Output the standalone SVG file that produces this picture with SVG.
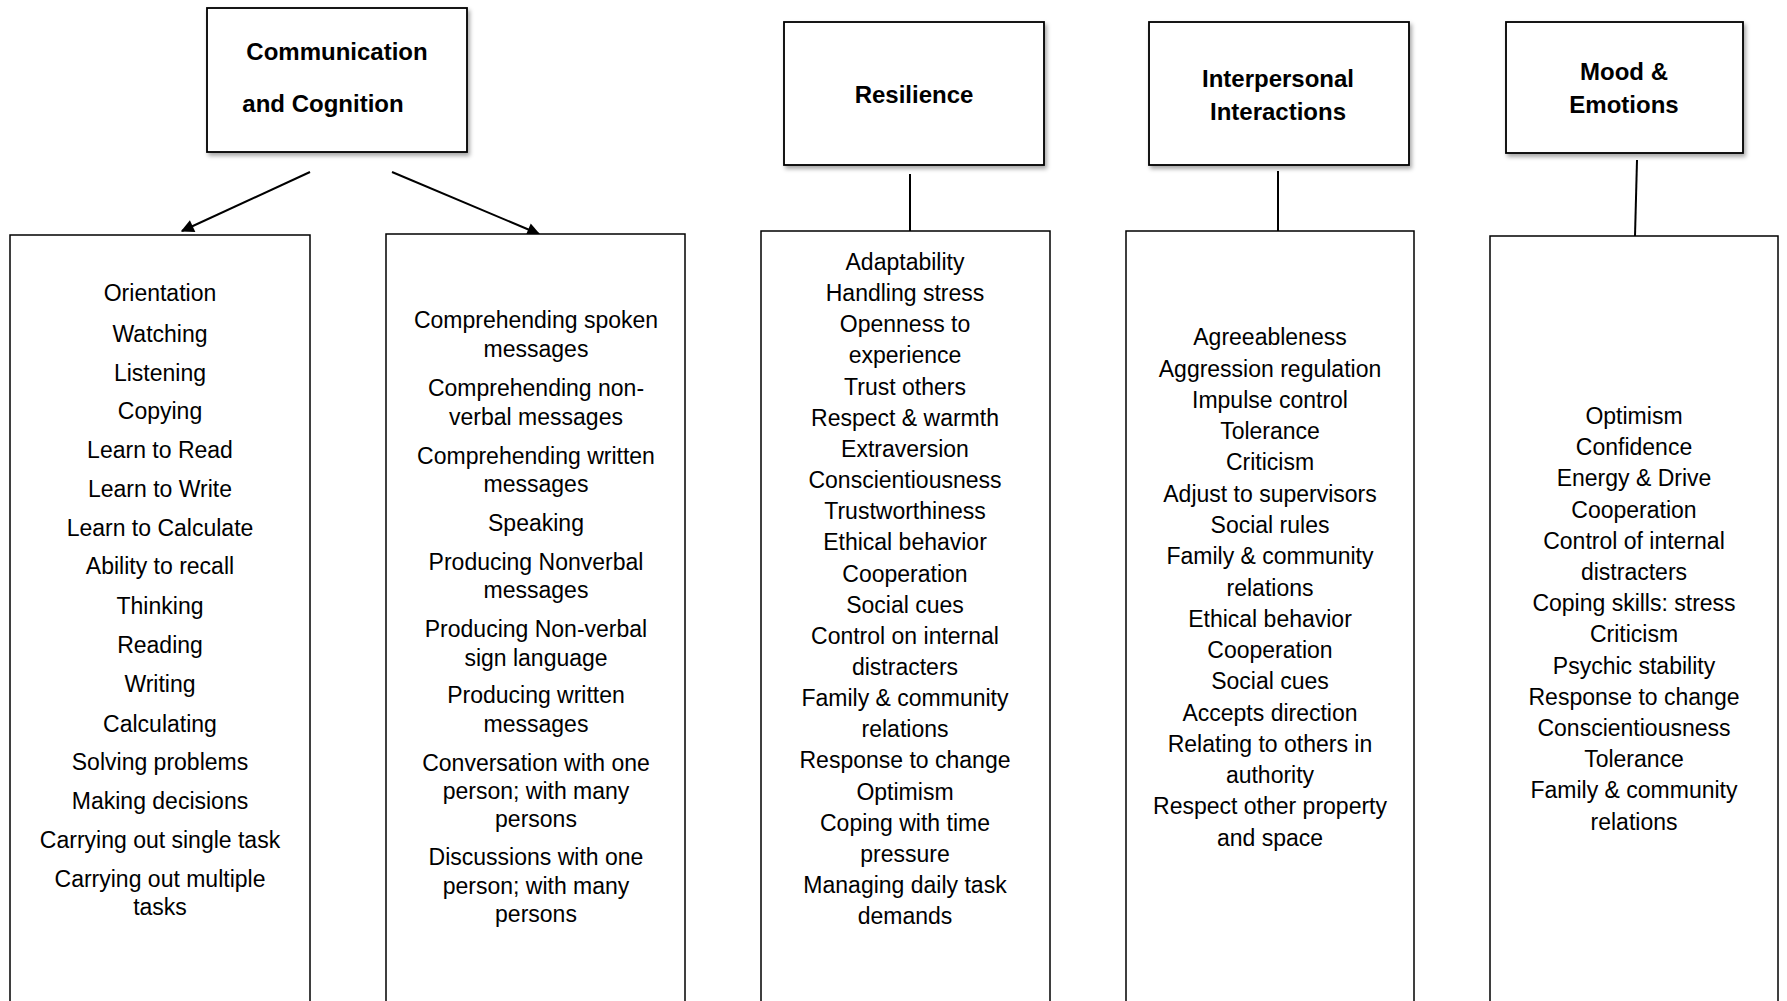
<svg xmlns="http://www.w3.org/2000/svg" width="1787" height="1001" viewBox="0 0 1787 1001">
<style>
.hdr{fill:#fff;stroke:#000;stroke-width:1.8;filter:url(#sh)}
.list{fill:#fff;stroke:#000;stroke-width:1.5}
.ht{font-family:"Liberation Sans",Arial,sans-serif;font-weight:bold;font-size:24px;text-anchor:middle;fill:#000}
.lt{font-family:"Liberation Sans",Arial,sans-serif;font-size:23px;text-anchor:middle;fill:#000}
.con{stroke:#000;stroke-width:2;fill:none}
</style>
<defs>
<filter id="sh" x="-10%" y="-10%" width="125%" height="125%">
<feDropShadow dx="2" dy="3" stdDeviation="2" flood-color="#000" flood-opacity="0.35"/>
</filter>
<marker id="ah" viewBox="0 0 10 10" refX="9" refY="5" markerWidth="15" markerHeight="13" markerUnits="userSpaceOnUse" orient="auto">
<path d="M0,0 L10,5 L0,10 z" fill="#000"/>
</marker>
</defs>
<rect width="1787" height="1001" fill="#fff"/>

<g id="connectors">
<path class="con" d="M310,172 L182,231" marker-end="url(#ah)"/>
<path class="con" d="M392,172 L539,234" marker-end="url(#ah)"/>
<path class="con" d="M910,174 L910,231" stroke-width="1.5"/>
<path class="con" d="M1278,171 L1278,231" stroke-width="1.5"/>
<path class="con" d="M1637,160 L1635,236" stroke-width="1.5"/>
</g>

<g id="comm-cog">
<rect class="hdr" x="207" y="8" width="260" height="144"/>
<text class="ht" x="337" y="60">Communication</text>
<text class="ht" x="323" y="112">and Cognition</text>
</g>
<g id="resilience">
<rect class="hdr" x="784" y="22" width="260" height="143"/>
<text class="ht" x="914" y="103">Resilience</text>
</g>
<g id="interpersonal">
<rect class="hdr" x="1149" y="22" width="260" height="143"/>
<text class="ht" x="1278" y="87">Interpersonal</text>
<text class="ht" x="1278" y="120">Interactions</text>
</g>
<g id="mood">
<rect class="hdr" x="1506" y="22" width="237" height="131" stroke-width="2.6"/>
<text class="ht" x="1624" y="80">Mood &amp;</text>
<text class="ht" x="1624" y="113">Emotions</text>
</g>

<g id="cognition-list">
<rect class="list" x="10" y="235" width="300" height="780"/>
<text class="lt" x="160" y="301">Orientation</text>
<text class="lt" x="160" y="342">Watching</text>
<text class="lt" x="160" y="381">Listening</text>
<text class="lt" x="160" y="419">Copying</text>
<text class="lt" x="160" y="458">Learn to Read</text>
<text class="lt" x="160" y="497">Learn to Write</text>
<text class="lt" x="160" y="536">Learn to Calculate</text>
<text class="lt" x="160" y="574">Ability to recall</text>
<text class="lt" x="160" y="614">Thinking</text>
<text class="lt" x="160" y="653">Reading</text>
<text class="lt" x="160" y="692">Writing</text>
<text class="lt" x="160" y="732">Calculating</text>
<text class="lt" x="160" y="770">Solving problems</text>
<text class="lt" x="160" y="809">Making decisions</text>
<text class="lt" x="160" y="848">Carrying out single task</text>
<text class="lt" x="160" y="887">Carrying out multiple</text>
<text class="lt" x="160" y="915">tasks</text>
</g>

<g id="communication-list">
<rect class="list" x="386" y="234" width="299" height="780"/>
<text class="lt" x="536" y="328">Comprehending spoken</text>
<text class="lt" x="536" y="357">messages</text>
<text class="lt" x="536" y="396">Comprehending non-</text>
<text class="lt" x="536" y="425">verbal messages</text>
<text class="lt" x="536" y="464">Comprehending written</text>
<text class="lt" x="536" y="492">messages</text>
<text class="lt" x="536" y="531">Speaking</text>
<text class="lt" x="536" y="570">Producing Nonverbal</text>
<text class="lt" x="536" y="598">messages</text>
<text class="lt" x="536" y="637">Producing Non-verbal</text>
<text class="lt" x="536" y="666">sign language</text>
<text class="lt" x="536" y="703">Producing written</text>
<text class="lt" x="536" y="732">messages</text>
<text class="lt" x="536" y="771">Conversation with one</text>
<text class="lt" x="536" y="799">person; with many</text>
<text class="lt" x="536" y="827">persons</text>
<text class="lt" x="536" y="865">Discussions with one</text>
<text class="lt" x="536" y="894">person; with many</text>
<text class="lt" x="536" y="922">persons</text>
</g>

<g id="resilience-list">
<rect class="list" x="761" y="231" width="289" height="780"/>
<text class="lt" x="905" y="270">Adaptability</text>
<text class="lt" x="905" y="301">Handling stress</text>
<text class="lt" x="905" y="332">Openness to</text>
<text class="lt" x="905" y="363">experience</text>
<text class="lt" x="905" y="395">Trust others</text>
<text class="lt" x="905" y="426">Respect &amp; warmth</text>
<text class="lt" x="905" y="457">Extraversion</text>
<text class="lt" x="905" y="488">Conscientiousness</text>
<text class="lt" x="905" y="519">Trustworthiness</text>
<text class="lt" x="905" y="550">Ethical behavior</text>
<text class="lt" x="905" y="582">Cooperation</text>
<text class="lt" x="905" y="613">Social cues</text>
<text class="lt" x="905" y="644">Control on internal</text>
<text class="lt" x="905" y="675">distracters</text>
<text class="lt" x="905" y="706">Family &amp; community</text>
<text class="lt" x="905" y="737">relations</text>
<text class="lt" x="905" y="768">Response to change</text>
<text class="lt" x="905" y="800">Optimism</text>
<text class="lt" x="905" y="831">Coping with time</text>
<text class="lt" x="905" y="862">pressure</text>
<text class="lt" x="905" y="893">Managing daily task</text>
<text class="lt" x="905" y="924">demands</text>
</g>

<g id="interpersonal-list">
<rect class="list" x="1126" y="231" width="288" height="780"/>
<text class="lt" x="1270" y="345">Agreeableness</text>
<text class="lt" x="1270" y="377">Aggression regulation</text>
<text class="lt" x="1270" y="408">Impulse control</text>
<text class="lt" x="1270" y="439">Tolerance</text>
<text class="lt" x="1270" y="470">Criticism</text>
<text class="lt" x="1270" y="502">Adjust to supervisors</text>
<text class="lt" x="1270" y="533">Social rules</text>
<text class="lt" x="1270" y="564">Family &amp; community</text>
<text class="lt" x="1270" y="596">relations</text>
<text class="lt" x="1270" y="627">Ethical behavior</text>
<text class="lt" x="1270" y="658">Cooperation</text>
<text class="lt" x="1270" y="689">Social cues</text>
<text class="lt" x="1270" y="721">Accepts direction</text>
<text class="lt" x="1270" y="752">Relating to others in</text>
<text class="lt" x="1270" y="783">authority</text>
<text class="lt" x="1270" y="814">Respect other property</text>
<text class="lt" x="1270" y="846">and space</text>
</g>

<g id="mood-list">
<rect class="list" x="1490" y="236" width="288" height="780"/>
<text class="lt" x="1634" y="424">Optimism</text>
<text class="lt" x="1634" y="455">Confidence</text>
<text class="lt" x="1634" y="486">Energy &amp; Drive</text>
<text class="lt" x="1634" y="518">Cooperation</text>
<text class="lt" x="1634" y="549">Control of internal</text>
<text class="lt" x="1634" y="580">distracters</text>
<text class="lt" x="1634" y="611">Coping skills: stress</text>
<text class="lt" x="1634" y="642">Criticism</text>
<text class="lt" x="1634" y="674">Psychic stability</text>
<text class="lt" x="1634" y="705">Response to change</text>
<text class="lt" x="1634" y="736">Conscientiousness</text>
<text class="lt" x="1634" y="767">Tolerance</text>
<text class="lt" x="1634" y="798">Family &amp; community</text>
<text class="lt" x="1634" y="830">relations</text>
</g>
</svg>
